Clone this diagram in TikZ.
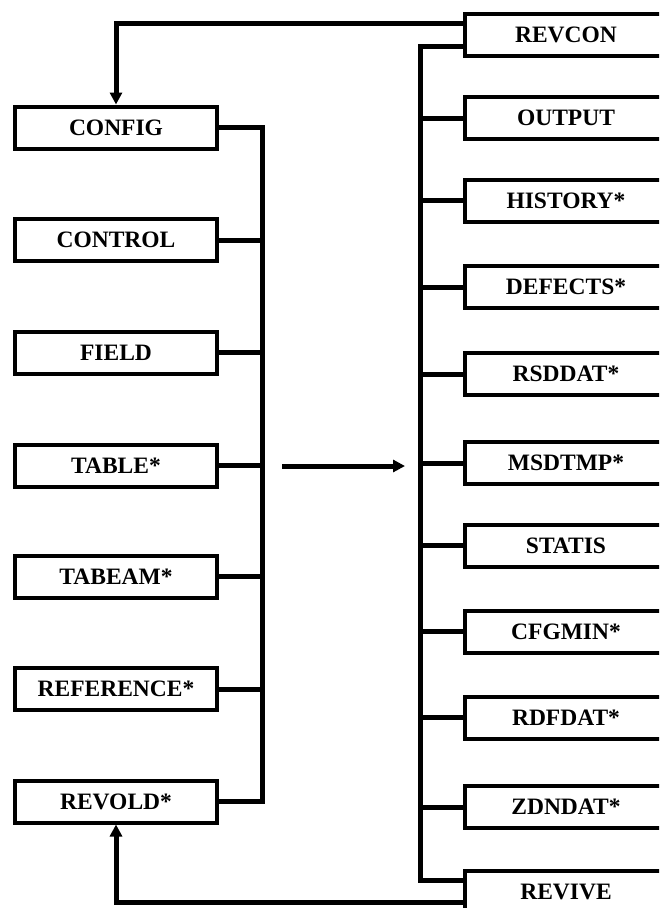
\documentclass[tikz,border=0pt]{standalone}
\usepackage{fontspec}
\setmainfont{Liberation Serif}
\usetikzlibrary{arrows.meta}
\begin{document}
\begin{tikzpicture}[x=1pt,y=-1pt,
  box/.style={draw=black, line width=4pt, minimum width=202pt, minimum height=42pt, inner sep=0pt,
    font=\fontsize{23.5}{28}\selectfont\bfseries},
  conn/.style={line width=5pt},
  arr/.style={line width=5pt,-{Triangle[length=12pt,width=12pt]}}]
\clip (0,0) rectangle (659,908);
% left column
\node[box] (config) at (116,127.5) {CONFIG};
\node[box] (control) at (116,240) {CONTROL};
\node[box] (field) at (116,352.5) {FIELD};
\node[box] (table) at (116,465.5) {TABLE*};
\node[box] (tabeam) at (116,576.5) {TABEAM*};
\node[box] (reference) at (116,689) {REFERENCE*};
\node[box] (revold) at (116,801.5) {REVOLD*};
% right column
\node[box] (revcon) at (566,35) {REVCON};
\node[box] (output) at (566,118) {OUTPUT};
\node[box] (history) at (566,200.5) {HISTORY*};
\node[box] (defects) at (566,287) {DEFECTS*};
\node[box] (rsddat) at (566,374) {RSDDAT*};
\node[box] (msdtmp) at (566,463) {MSDTMP*};
\node[box] (statis) at (566,545.5) {STATIS};
\node[box] (cfgmin) at (566,631.5) {CFGMIN*};
\node[box] (rdfdat) at (566,717.5) {RDFDAT*};
\node[box] (zdndat) at (566,807) {ZDNDAT*};
\node[box] (revive) at (566,892) {REVIVE};
% buses
\coordinate (lbus) at (262.5,0);
\coordinate (rbus) at (420.5,0);
\foreach \n in {config,control,field,table,tabeam,reference,revold}
  \draw[conn] (\n.east) -- (lbus |- \n.east);
\draw[conn,line cap=rect] (lbus |- config.east) -- (lbus |- revold.east);
\coordinate (rc) at ([yshift=-11pt]revcon.west);
\coordinate (rv) at ([yshift=12pt]revive.west);
\draw[conn] (rbus |- rc) -- (rc);
\draw[conn] (rbus |- rv) -- (rv);
\foreach \n in {output,history,defects,rsddat,msdtmp,statis,cfgmin,rdfdat,zdndat}
  \draw[conn] (rbus |- \n.west) -- (\n.west);
\draw[conn,line cap=rect] (rbus |- rc) -- (rbus |- rv);
% feedback arrows
\coordinate (rt) at ([yshift=11.5pt]revcon.west);
\coordinate (rb) at ([yshift=-10pt]revive.west);
\draw[arr] (rt) -| (config.north);
\draw[arr] (rb) -| (revold.south);
% middle arrow
\coordinate (ms) at (282,466);
\coordinate (me) at (405,466);
\draw[arr] (ms) -- (me);
\end{tikzpicture}
\end{document}
